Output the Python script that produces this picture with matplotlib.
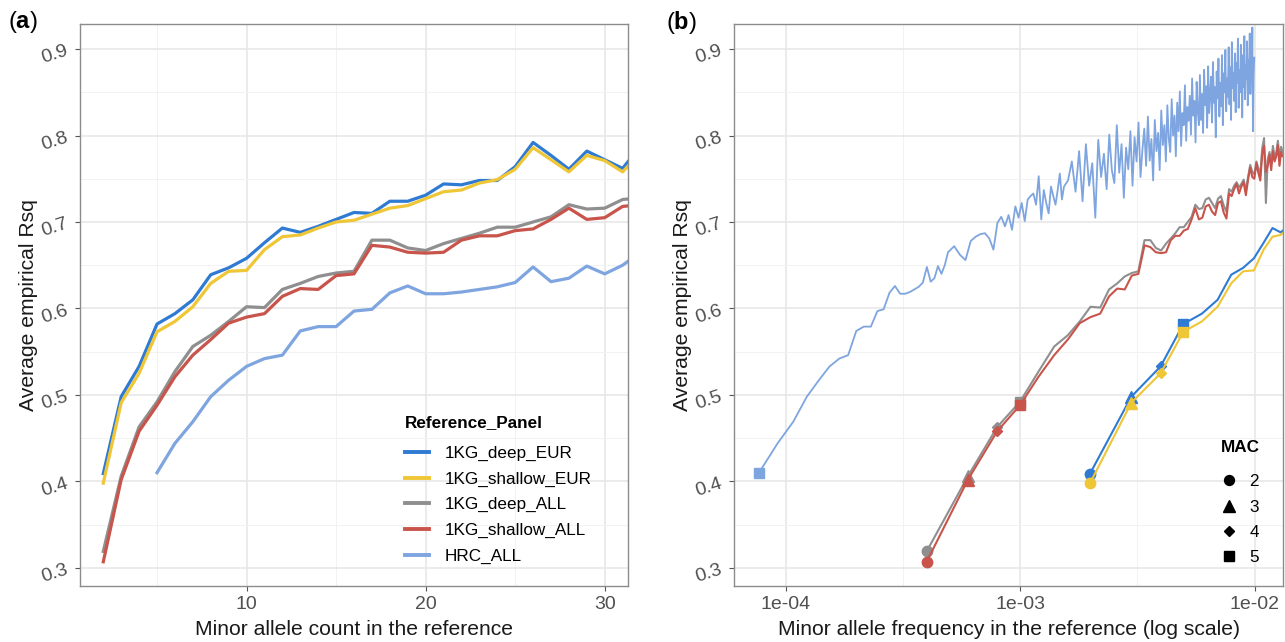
import numpy as np
import matplotlib
matplotlib.use('Agg')
import matplotlib.pyplot as plt
from matplotlib.lines import Line2D

plt.rcParams['font.family'] = ['Liberation Sans', 'DejaVu Sans']
plt.rcParams['mathtext.fontset'] = 'custom'
plt.rcParams['mathtext.rm'] = 'Liberation Sans'
plt.rcParams['mathtext.bf'] = 'Liberation Sans:bold'

# haplotype counts of the reference panels (MAF = MAC / n_hap)
n_hap_eur = 1006
n_hap_all = 5008
n_hap_hrc = 64976

# minor allele counts
mac_eur = list(range(2, 33))
mac_all = list(range(2, 67))
mac_hrc = list(range(5, 33)) + list(range(34, 101, 2)) + list(range(104, 649, 4))

deep_eur = [0.409, 0.498, 0.533, 0.582, 0.594, 0.610, 0.639, 0.647, 0.658, 0.676,
            0.693, 0.688, 0.695, 0.703, 0.711, 0.710, 0.724, 0.724, 0.731, 0.744,
            0.743, 0.748, 0.748, 0.764, 0.792, 0.777, 0.761, 0.782, 0.772, 0.762,
            0.788]
shallow_eur = [0.398, 0.491, 0.525, 0.573, 0.585, 0.602, 0.629, 0.643, 0.644, 0.668,
               0.683, 0.685, 0.693, 0.700, 0.702, 0.709, 0.716, 0.719, 0.727, 0.735,
               0.737, 0.745, 0.749, 0.761, 0.786, 0.772, 0.758, 0.777, 0.771, 0.758,
               0.780]
deep_all = [0.319, 0.406, 0.463, 0.492, 0.527, 0.556, 0.569, 0.585, 0.602, 0.601,
            0.622, 0.629, 0.637, 0.641, 0.643, 0.679, 0.679, 0.670, 0.667, 0.675,
            0.681, 0.687, 0.694, 0.694, 0.700, 0.706, 0.720, 0.715, 0.716, 0.726,
            0.728, 0.722, 0.716, 0.727, 0.730, 0.719, 0.712, 0.738, 0.735, 0.742,
            0.746, 0.740, 0.744, 0.749, 0.736, 0.752, 0.766, 0.758, 0.755, 0.770,
            0.762, 0.754, 0.785, 0.797, 0.722, 0.772, 0.781, 0.768, 0.788, 0.775,
            0.780, 0.794, 0.772, 0.787, 0.781]
shallow_all = [0.307, 0.402, 0.458, 0.488, 0.521, 0.546, 0.564, 0.583, 0.590, 0.594,
               0.614, 0.623, 0.622, 0.638, 0.640, 0.673, 0.671, 0.665, 0.664, 0.665,
               0.679, 0.684, 0.684, 0.690, 0.692, 0.703, 0.716, 0.703, 0.705, 0.718,
               0.720, 0.712, 0.708, 0.722, 0.724, 0.711, 0.704, 0.733, 0.730, 0.738,
               0.744, 0.733, 0.741, 0.746, 0.731, 0.749, 0.763, 0.752, 0.750, 0.768,
               0.757, 0.748, 0.778, 0.788, 0.758, 0.765, 0.778, 0.760, 0.782, 0.770,
               0.776, 0.789, 0.765, 0.781, 0.776]
hrc_all = [0.410, 0.444, 0.469, 0.498, 0.517, 0.533, 0.542, 0.546, 0.574, 0.579,
           0.579, 0.597, 0.599, 0.618, 0.626, 0.617, 0.617, 0.619, 0.622, 0.625,
           0.630, 0.648, 0.631, 0.635, 0.649, 0.640, 0.650, 0.665,
           # MAC 34..100 step 2
           0.672, 0.662, 0.656, 0.678, 0.683, 0.686, 0.687, 0.681, 0.668, 0.699,
           0.706, 0.695, 0.708, 0.691, 0.718, 0.705, 0.722, 0.701, 0.726, 0.730,
           0.733, 0.720, 0.753, 0.703, 0.737, 0.722, 0.710, 0.741, 0.730, 0.720,
           0.737, 0.756, 0.726, 0.741,
           # MAC 104..648 step 4
           0.748, 0.770, 0.735, 0.782, 0.724, 0.790, 0.742, 0.768, 0.705, 0.795,
           0.752, 0.779, 0.738, 0.801, 0.760, 0.745, 0.812, 0.757, 0.790, 0.728,
           0.786, 0.761, 0.805, 0.742, 0.798, 0.770, 0.815, 0.752, 0.783, 0.808,
           0.765, 0.822, 0.771, 0.796, 0.748, 0.818, 0.782, 0.803, 0.760, 0.829,
           0.789, 0.812, 0.770, 0.835, 0.796, 0.781, 0.842, 0.800, 0.823, 0.776,
           0.838, 0.805, 0.851, 0.788, 0.826, 0.812, 0.858, 0.794, 0.833, 0.817,
           0.846, 0.801, 0.866, 0.823, 0.840, 0.792, 0.862, 0.829, 0.812, 0.870,
           0.818, 0.848, 0.803, 0.876, 0.835, 0.857, 0.809, 0.880, 0.826, 0.849,
           0.868, 0.815, 0.885, 0.838, 0.856, 0.798, 0.874, 0.843, 0.889, 0.822,
           0.861, 0.834, 0.893, 0.812, 0.872, 0.850, 0.899, 0.828, 0.866, 0.845,
           0.902, 0.836, 0.879, 0.818, 0.908, 0.855, 0.872, 0.840, 0.895, 0.827,
           0.884, 0.861, 0.912, 0.832, 0.876, 0.850, 0.905, 0.868, 0.821, 0.893,
           0.856, 0.915, 0.842, 0.881, 0.866, 0.909, 0.835, 0.887, 0.872, 0.918,
           0.848, 0.896, 0.862, 0.925, 0.805, 0.870, 0.890]

panels = ['1KG_deep_EUR', '1KG_shallow_EUR', '1KG_deep_ALL', '1KG_shallow_ALL', 'HRC_ALL']
colors = ['#2f7ad3', '#efc636', '#8f8f8f', '#c8544b', '#7ea5df']
series = [(mac_eur, deep_eur, n_hap_eur), (mac_eur, shallow_eur, n_hap_eur),
          (mac_all, deep_all, n_hap_all), (mac_all, shallow_all, n_hap_all),
          (mac_hrc, hrc_all, n_hap_hrc)]

mac_shapes = {2: ('o', 7.5), 3: ('^', 8.5), 4: ('D', 5), 5: ('s', 7.5)}

W, H = 1285, 642
fig = plt.figure(figsize=(W / 100, H / 100), dpi=100)
ax_a = fig.add_axes([80 / W, 56 / H, 548 / W, 562 / H])
ax_b = fig.add_axes([734 / W, 56 / H, 549 / W, 562 / H])

yt = [0.3, 0.4, 0.5, 0.6, 0.7, 0.8, 0.9]


def style(ax):
    ax.set_ylim(0.279, 0.929)
    ax.set_yticks(yt)
    ax.set_yticklabels([f'{v:.1f}' for v in yt], rotation=18)
    ax.set_yticks([0.35, 0.45, 0.55, 0.65, 0.75, 0.85], minor=True)
    ax.grid(which='major', color='#e6e6e6', lw=1.1)
    ax.grid(which='minor', color='#f2f2f2', lw=0.7)
    ax.set_axisbelow(True)
    for sp in ax.spines.values():
        sp.set_color('#8c8c8c')
        sp.set_linewidth(1.0)
    ax.tick_params(which='major', length=3.5, color='#555555', labelcolor='#505050',
                   labelsize=14)
    ax.tick_params(which='minor', length=0)
    ax.set_ylabel('Average empirical Rsq', fontsize=15.2, color='#1a1a1a', labelpad=1)


# (a) Rsq vs minor allele count
for (mac, vals, nh), col, name in zip(series, colors, panels):
    ax_a.plot(mac, vals, color=col, lw=2.3, solid_joinstyle='round', label=name)
ax_a.set_xlim(0.7, 31.3)
ax_a.set_xticks([10, 20, 30])
ax_a.set_xticks([5, 15, 25], minor=True)
style(ax_a)
ax_a.set_xlabel('Minor allele count in the reference', fontsize=15.2, color='#1a1a1a',
                labelpad=5)

handles_a = [Line2D([], [], color=c, lw=2.8) for c in colors]
leg_a = ax_a.legend(handles_a, panels, title='Reference_Panel', loc='lower left',
                    bbox_to_anchor=(0.565, 0.012), frameon=False, fontsize=12.3,
                    title_fontsize=12.3, handlelength=1.4, handletextpad=0.9,
                    labelspacing=0.62, alignment='left')
leg_a.get_title().set_fontweight('bold')
leg_a._legend_box.sep = 11

# (b) Rsq vs minor allele frequency
for (mac, vals, nh), col in zip(series, colors):
    maf = np.array(mac) / nh
    lw = 1.3 if nh == n_hap_hrc else 1.5
    ax_b.plot(maf, vals, color=col, lw=lw)
    for m, v in zip(mac, vals):
        if m in mac_shapes:
            mk, ms = mac_shapes[m]
            ax_b.plot(m / nh, v, marker=mk, ms=ms, color=col, linestyle='none')
ax_b.set_xscale('log')
ax_b.set_xlim(10 ** -4.2205, 10 ** -1.8785)
ax_b.set_xticks([1e-4, 1e-3, 1e-2])
ax_b.set_xticklabels(['1e-04', '1e-03', '1e-02'])
ax_b.set_xticks([10 ** -3.5, 10 ** -2.5], minor=True)
ax_b.set_xticklabels([], minor=True)
style(ax_b)
ax_b.set_xlabel('Minor allele frequency in the reference (log scale)', fontsize=15.2,
                color='#1a1a1a', labelpad=5)

handles_b = [Line2D([], [], marker=mac_shapes[m][0], ms=mac_shapes[m][1] * 0.95,
                    color='black', linestyle='none') for m in [2, 3, 4, 5]]
leg_b = ax_b.legend(handles_b, ['2', '3', '4', '5'], title='MAC', loc='lower right',
                    bbox_to_anchor=(0.985, 0.01), frameon=False, fontsize=12.3,
                    title_fontsize=12.3, handlelength=1.0, handletextpad=0.7,
                    labelspacing=0.6, alignment='left')
leg_b.get_title().set_fontweight('bold')
leg_b._legend_box.sep = 14

fig.text(8 / W, 1 - 22 / H, r'($\mathbf{a}$)', fontsize=17, va='center', ha='left')
fig.text(666 / W, 1 - 22 / H, r'($\mathbf{b}$)', fontsize=17, va='center', ha='left')

fig.savefig('out.png', dpi=100)
